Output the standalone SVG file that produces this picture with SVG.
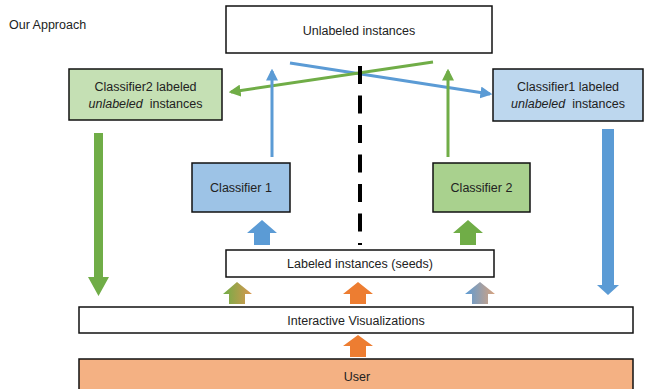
<svg xmlns="http://www.w3.org/2000/svg" width="646" height="389" viewBox="0 0 646 389">
<style>
text{font-family:"Liberation Sans",Arial,sans-serif;font-size:12.5px;fill:#222;}
.box{stroke:#111;stroke-width:1.5;}
.ln{fill:none;stroke-width:3;}
</style>
<defs>
<marker id="mb" viewBox="0 0 10 10" refX="8" refY="5" markerWidth="4" markerHeight="4" orient="auto" markerUnits="strokeWidth"><path d="M0,0 L10,5 L0,10 z" fill="#5B9BD5"/></marker>
<marker id="mg" viewBox="0 0 10 10" refX="8" refY="5" markerWidth="4" markerHeight="4" orient="auto" markerUnits="strokeWidth"><path d="M0,0 L10,5 L0,10 z" fill="#70AD47"/></marker>
<linearGradient id="gGO" x1="0" y1="0" x2="1" y2="0"><stop offset="0" stop-color="#70AD47"/><stop offset="1" stop-color="#D9964F"/></linearGradient>
<linearGradient id="gBO" x1="0" y1="0" x2="1" y2="0"><stop offset="0" stop-color="#5B9BD5"/><stop offset="1" stop-color="#D7A27E"/></linearGradient>
</defs>
<rect width="646" height="389" fill="#fff"/>
<text x="9" y="29">Our Approach</text>

<g id="connectors">
<path class="ln" d="M290,63 L490,94" stroke="#5B9BD5" marker-end="url(#mb)"/>
<path class="ln" d="M433,62 L231,92" stroke="#70AD47" marker-end="url(#mg)"/>
<path class="ln" d="M272,157 L272,71" stroke="#5B9BD5" marker-end="url(#mb)"/>
<path class="ln" d="M448,157 L448,71" stroke="#70AD47" marker-end="url(#mg)"/>
<line x1="360" y1="66" x2="360" y2="245" stroke="#000" stroke-width="4" stroke-dasharray="18 11.5"/>
<path d="M94,133 H103 V277 H109 L98.5,296 L88,277 H94 Z" fill="#70AD47"/>
<path d="M602,129 H614 V285 H619 L608,295 L597,285 H602 Z" fill="#5B9BD5"/>
<path d="M254,245 V233 H247 L262,220 L277,233 H270 V245 Z" fill="#5B9BD5"/>
<path d="M460,245 V233 H453 L468,220 L483,233 H476 V245 Z" fill="#70AD47"/>
<path d="M229,304 V294 H223 L237,282 L252,294 H245 V304 Z" fill="url(#gGO)"/>
<path d="M350,304 V294 H343 L358,282 L373,294 H366 V304 Z" fill="#ED7D31"/>
<path d="M472,304 V294 H465 L480,282 L495,294 H488 V304 Z" fill="url(#gBO)"/>
<path d="M350,357 V346 H343 L358,335 L373,346 H366 V357 Z" fill="#ED7D31"/>
</g>

<g id="unlabeled">
<rect class="box" x="226" y="6" width="266" height="47" fill="#fff"/>
<text x="359" y="35" text-anchor="middle">Unlabeled instances</text>
</g>
<g id="c2labeled">
<rect class="box" x="69" y="69" width="153" height="51" fill="#C5E0B4"/>
<text x="145.5" y="91" text-anchor="middle">Classifier2 labeled</text>
<text x="145.5" y="108" text-anchor="middle"><tspan font-style="italic">unlabeled</tspan>&#160; instances</text>
</g>
<g id="c1labeled">
<rect class="box" x="493" y="69" width="150" height="52" fill="#BDD7EE"/>
<text x="568" y="91" text-anchor="middle">Classifier1 labeled</text>
<text x="568" y="108" text-anchor="middle"><tspan font-style="italic">unlabeled</tspan>&#160; instances</text>
</g>
<g id="classifier1">
<rect class="box" x="192" y="163" width="98" height="49" fill="#9DC3E6"/>
<text x="241" y="192" text-anchor="middle">Classifier 1</text>
</g>
<g id="classifier2">
<rect class="box" x="433" y="163" width="97" height="49" fill="#A9D18E"/>
<text x="481.5" y="192" text-anchor="middle">Classifier 2</text>
</g>
<g id="labeled">
<rect class="box" x="226" y="250" width="268" height="27" fill="#fff"/>
<text x="360" y="268" text-anchor="middle">Labeled instances (seeds)</text>
</g>
<g id="interactive">
<rect class="box" x="79" y="307" width="554" height="26" fill="#fff"/>
<text x="356" y="325" text-anchor="middle">Interactive Visualizations</text>
</g>
<g id="user">
<rect class="box" x="79" y="359" width="554" height="34" fill="#F4B183"/>
<text x="357" y="381" text-anchor="middle">User</text>
</g>
</svg>
